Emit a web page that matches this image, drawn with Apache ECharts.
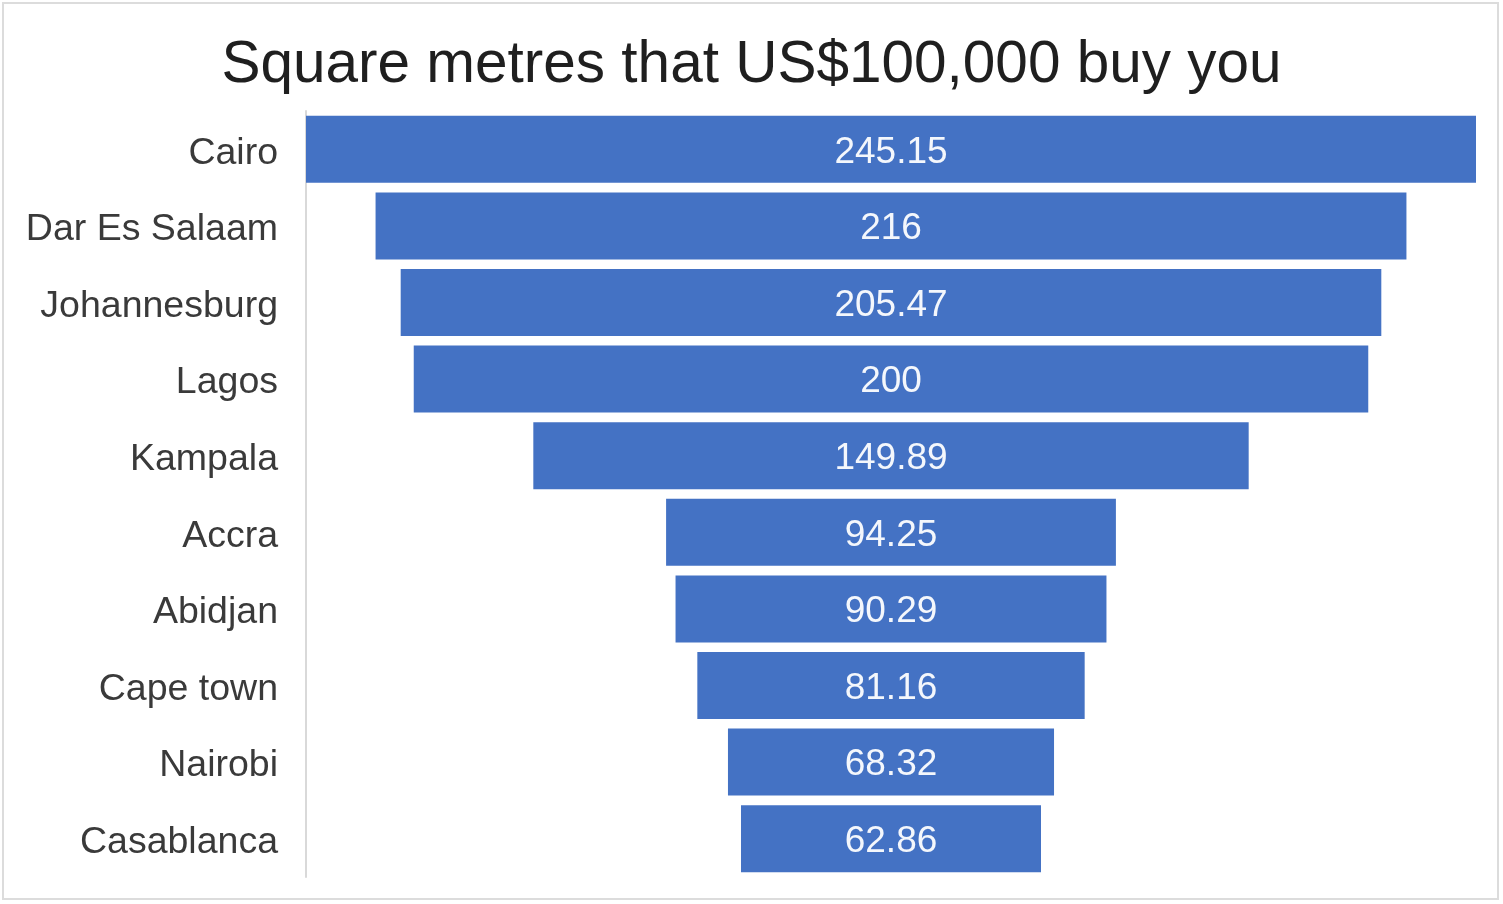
<!DOCTYPE html>
<html>
<head>
<meta charset="utf-8">
<script src="https://cdn.jsdelivr.net/npm/echarts@6/dist/echarts.min.js"></script>
<style>
  html, body { margin: 0; padding: 0; background: #fff; }
  #chart { width: 1503px; height: 904px; }
</style>
</head>
<body>
<div id="chart"></div>
<script>
// Cities, ordered from most to least floor area per US$100,000
const cities = ['Cairo', 'Dar Es Salaam', 'Johannesburg', 'Lagos', 'Kampala',
  'Accra', 'Abidjan', 'Cape town', 'Nairobi', 'Casablanca'];
const squareMetres = [245.15, 216, 205.47, 200, 149.89, 94.25, 90.29, 81.16, 68.32, 62.86];

const maxValue = Math.max(...squareMetres);
// Invisible spacer that centres each bar, giving the funnel shape
const spacer = squareMetres.map(v => (maxValue - v) / 2);

const chart = echarts.init(document.getElementById('chart'), null, { renderer: 'canvas' });
const font = 'Arial, "Liberation Sans", sans-serif';

chart.setOption({
  backgroundColor: '#ffffff',
  animation: false,
  title: {
    text: 'Square metres that US$100,000 buy you',
    left: 'center',
    top: 31,
    textStyle: { fontFamily: font, fontSize: 58.5, fontWeight: 'normal', color: '#1f1f1f' }
  },
  graphic: [{
    type: 'rect',
    shape: { x: 3, y: 3, width: 1495, height: 896 },
    style: { fill: 'none', stroke: '#dcdcdc', lineWidth: 2 },
    silent: true
  }],
  grid: { left: 306, right: 27, top: 111, bottom: 27, containLabel: false },
  xAxis: {
    type: 'value',
    min: 0,
    max: maxValue,
    show: false,
    splitLine: { show: false }
  },
  yAxis: {
    type: 'category',
    data: cities,
    inverse: true,
    axisLine: { show: true, lineStyle: { color: '#d9d9d9', width: 2 } },
    axisTick: { show: false },
    axisLabel: {
      margin: 28,
      formatter: v => '{c|' + v + '}',
      rich: {
        c: {
          fontFamily: font, fontSize: 37.5, color: '#3a3a3a',
          padding: [8, 0, 0, 0]
        }
      }
    }
  },
  series: [
    {
      name: 'spacer',
      type: 'bar',
      stack: 'funnel',
      data: spacer,
      itemStyle: { color: 'transparent' },
      silent: true,
      barCategoryGap: '12.5%'
    },
    {
      name: 'Square metres',
      type: 'bar',
      stack: 'funnel',
      data: squareMetres,
      barCategoryGap: '12.5%',
      itemStyle: { color: '#4472C4' },
      label: {
        show: true,
        position: 'inside',
        offset: [0, 3],
        formatter: p => String(p.value),
        fontFamily: font,
        fontSize: 37,
        color: '#f4f7fc'
      }
    }
  ]
});
</script>
</body>
</html>
